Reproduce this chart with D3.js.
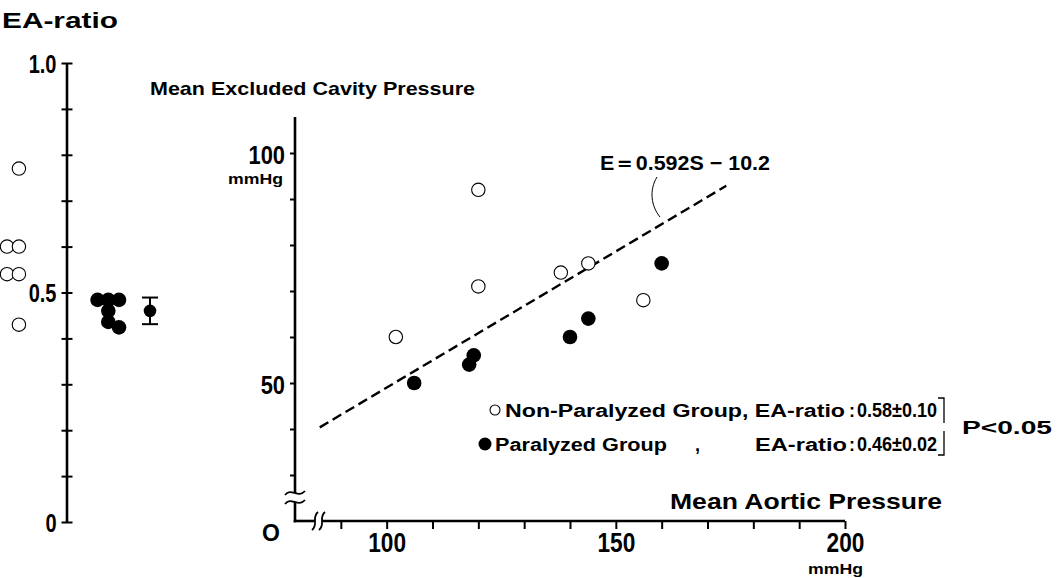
<!DOCTYPE html>
<html>
<head>
<meta charset="utf-8">
<script src="https://cdnjs.cloudflare.com/ajax/libs/d3/7.8.5/d3.min.js"></script>
<style>
  body{margin:0;background:#fff}
  text{font-family:'Liberation Sans',Arial,sans-serif;font-weight:bold;fill:#000}
</style>
</head>
<body>
<div id="chart"></div>
<script>
// left panel: EA-ratio per dog (column = jitter position)
const nonParRatio = [0.77, 0.60, 0.60, 0.54, 0.54, 0.43]
const nonParCol = [1, 0, 1, 0, 1, 1]
const parRatio = [0.484, 0.484, 0.484, 0.46, 0.436, 0.424]
const parCol = [7.6, 8.5, 9.4, 8.5, 8.5, 9.4]
const parMean = {col: 12, value: 0.46, err: 0.029}
const ratioTicks = [0, 0.1, 0.2, 0.3, 0.4, 0.5, 0.6, 0.7, 0.8, 0.9, 1.0]
const ratioLabels = {0: "0", 0.5: "0.5", 1: "1.0"}

// right panel: mean aortic vs excluded cavity pressure
const nonParAortic = [102, 120, 120, 138, 144, 156]
const nonParCavity = [60, 92, 71, 74, 76, 68]
const parAortic = [106, 118, 119, 140, 144, 160]
const parCavity = [50, 54, 56, 60, 64, 76]
const aorticTicks = [90, 100, 110, 120, 130, 140, 150, 160, 170, 180, 190, 200]
const aorticLabels = [100, 150, 200]
const cavityTicks = [30, 40, 50, 60, 70, 80, 90, 100]
const cavityLabels = [50, 100]
const fit = {slope: 0.592, intercept: -10.2, from: 85.4, to: 174.1}

const W = 1059, H = 578
const svg = d3.select("#chart").append("svg").attr("width", W).attr("height", H)

function condense(sel, f){
  sel.each(function(){
    if(!this.textContent) return
    const len = this.getComputedTextLength()
    d3.select(this).attr("textLength", len * f).attr("lengthAdjust", "spacingAndGlyphs")
  })
}
function label(x, y, txt, size, width, anchor){
  const t = svg.append("text").attr("x", x).attr("y", y).attr("font-size", size + "px")
    .attr("text-anchor", anchor || "start").text(txt)
  if(width) t.attr("textLength", width).attr("lengthAdjust", "spacingAndGlyphs")
  return t
}

// ---------- left panel ----------
const yL = d3.scaleLinear().domain([0, 1]).range([522, 63])
const xL = d3.scaleLinear().domain([0, 12]).range([7, 150])
const axL = 67

const gL = svg.append("g").attr("transform", `translate(${axL - 5.5},0)`)
  .call(d3.axisLeft(yL).tickValues(ratioTicks).tickSize(-11).tickPadding(5)
    .tickFormat(d => ratioLabels[d] || ""))
gL.select(".domain").remove()
gL.selectAll(".tick line").attr("stroke-width", 2)
gL.selectAll(".tick text").attr("font-size", "25px").attr("font-family", null).attr("dy", "0.36em")
condense(gL.selectAll(".tick text"), 0.8)
svg.append("line").attr("x1", axL).attr("x2", axL).attr("y1", yL(1)).attr("y2", yL(0))
  .attr("stroke", "#000").attr("stroke-width", 2.6)

svg.selectAll(".npL").data(nonParRatio).enter().append("circle")
  .attr("cx", (d, i) => xL(nonParCol[i])).attr("cy", d => yL(d)).attr("r", 6.7)
  .attr("fill", "#fff").attr("stroke", "#000").attr("stroke-width", 1.1)
svg.selectAll(".pL").data(parRatio).enter().append("circle")
  .attr("cx", (d, i) => xL(parCol[i])).attr("cy", d => yL(d)).attr("r", 7.3).attr("fill", "#000")

const mx = xL(parMean.col)
svg.append("line").attr("x1", mx).attr("x2", mx)
  .attr("y1", yL(parMean.value + parMean.err)).attr("y2", yL(parMean.value - parMean.err))
  .attr("stroke", "#000").attr("stroke-width", 2)
;[parMean.value + parMean.err, parMean.value - parMean.err].forEach(v => {
  svg.append("line").attr("x1", mx - 8).attr("x2", mx + 8).attr("y1", yL(v)).attr("y2", yL(v))
    .attr("stroke", "#000").attr("stroke-width", 2)
})
svg.append("circle").attr("cx", mx).attr("cy", yL(parMean.value)).attr("r", 6.3).attr("fill", "#000")

label(2, 28, "EA-ratio", 22, 116)

// ---------- right panel ----------
const xS = d3.scaleLinear().domain([80, 200]).range([295, 845])
const yS = d3.scaleLinear().domain([20, 100]).range([521, 153])
const ax0 = xS(80), ay0 = yS(20)

const gy = svg.append("g").attr("transform", `translate(${ax0},0)`)
  .call(d3.axisLeft(yS).tickValues(cavityTicks).tickSize(5).tickPadding(5)
    .tickFormat(d => cavityLabels.includes(d) ? d : ""))
gy.select(".domain").remove()
gy.selectAll(".tick line").attr("stroke-width", 2)
gy.selectAll(".tick text").attr("font-size", "26px").attr("font-family", null).attr("dy", "0.42em")
condense(gy.selectAll(".tick text"), 0.84)

const gx = svg.append("g").attr("transform", `translate(0,${ay0})`)
  .call(d3.axisBottom(xS).tickValues(aorticTicks).tickSize(8).tickPadding(4)
    .tickFormat(d => aorticLabels.includes(d) ? d : ""))
gx.select(".domain").remove()
gx.selectAll(".tick line").attr("stroke-width", 2)
gx.selectAll(".tick text").attr("font-size", "27px").attr("font-family", null)
condense(gx.selectAll(".tick text"), 0.84)

// axis lines with breaks
const axisStyle = s => s.attr("stroke", "#000").attr("stroke-width", 2.6).attr("fill", "none")
const yBreak = [493, 502], xBreak = [315, 322]
svg.append("line").attr("x1", ax0).attr("x2", ax0).attr("y1", yS(107.8)).attr("y2", yBreak[0]).call(axisStyle)
svg.append("line").attr("x1", ax0).attr("x2", ax0).attr("y1", yBreak[1]).attr("y2", ay0 + 1.3).call(axisStyle)
svg.append("line").attr("x1", ax0 - 1.3).attr("x2", xBreak[0]).attr("y1", ay0).attr("y2", ay0).call(axisStyle)
svg.append("line").attr("x1", xBreak[1]).attr("x2", xS(200)).attr("y1", ay0).attr("y2", ay0).call(axisStyle)
yBreak.forEach(y => {
  svg.append("path").attr("d", `M${ax0 - 10},${y + 2} C${ax0 - 4},${y - 6} ${ax0 + 3},${y + 6} ${ax0 + 10},${y - 2}`)
    .attr("stroke", "#000").attr("stroke-width", 1.8).attr("fill", "none")
})
xBreak.forEach(x => {
  svg.append("path").attr("d", `M${x + 3},${ay0 - 9} C${x - 4},${ay0 - 3} ${x + 4},${ay0 + 3} ${x - 3},${ay0 + 9}`)
    .attr("stroke", "#000").attr("stroke-width", 1.8).attr("fill", "none")
})
label(271, 541, "O", 23, 0, "middle")

// regression line
svg.append("line")
  .attr("x1", xS(fit.from)).attr("y1", yS(fit.slope * fit.from + fit.intercept))
  .attr("x2", xS(fit.to)).attr("y2", yS(fit.slope * fit.to + fit.intercept))
  .attr("stroke", "#000").attr("stroke-width", 2.4).attr("stroke-dasharray", "10 5")
svg.append("path").attr("d", "M657,177 C649,190 651,206 660,217")
  .attr("stroke", "#000").attr("stroke-width", 1).attr("fill", "none")
label(600, 170, "E\uFF1D0.592S \u2212 10.2", 21, 170)

// points
svg.selectAll(".np").data(nonParAortic).enter().append("circle")
  .attr("cx", d => xS(d)).attr("cy", (d, i) => yS(nonParCavity[i])).attr("r", 6.7)
  .attr("fill", "#fff").attr("stroke", "#000").attr("stroke-width", 1.1)
svg.selectAll(".p").data(parAortic).enter().append("circle")
  .attr("cx", d => xS(d)).attr("cy", (d, i) => yS(parCavity[i])).attr("r", 7.3).attr("fill", "#000")

// titles and units
label(150, 95, "Mean Excluded Cavity Pressure", 19, 325)
label(670, 509, "Mean Aortic Pressure", 22, 272)
label(283, 184, "mmHg", 15, 55, "end").attr("font-weight", "normal")
label(863, 574, "mmHg", 15, 55, "end").attr("font-weight", "normal")

// legend
svg.append("circle").attr("cx", 495).attr("cy", 410).attr("r", 5)
  .attr("fill", "#fff").attr("stroke", "#000").attr("stroke-width", 1.1)
label(505, 417, "Non-Paralyzed Group, EA-ratio", 18, 340)
label(849, 417, ":", 18)
label(857, 417, "0.58\u00B10.10", 20, 80)
svg.append("circle").attr("cx", 485).attr("cy", 444).attr("r", 6.5).attr("fill", "#000")
label(495, 451, "Paralyzed Group", 18, 172)
label(695, 451, ",", 18)
label(755, 451, "EA-ratio", 18, 92)
label(849, 451, ":", 18)
label(857, 451, "0.46\u00B10.02", 20, 80)
svg.append("path").attr("d", "M938,398 H944 V423")
  .attr("stroke", "#000").attr("stroke-width", 1.3).attr("fill", "none")
svg.append("path").attr("d", "M944,431 V455 H938")
  .attr("stroke", "#000").attr("stroke-width", 1.3).attr("fill", "none")
label(962, 434, "P<0.05", 18, 90)
</script>
</body>
</html>
